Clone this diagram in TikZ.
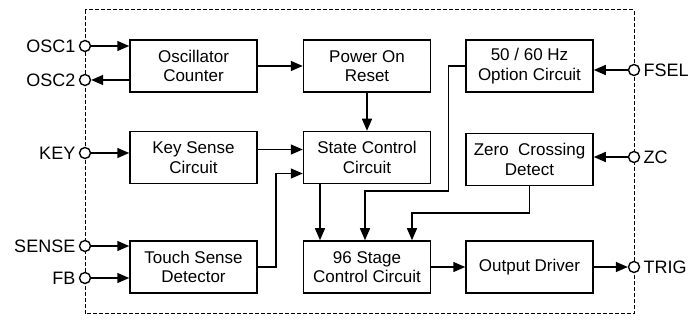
\documentclass[tikz,border=0pt]{standalone}
\usepackage{fontspec}
\setmainfont{Liberation Sans}
\usepackage{tikz}
\usetikzlibrary{arrows.meta, positioning, calc}

\begin{document}
\begin{tikzpicture}[x=1pt, y=-1pt,
  node distance=38pt and 45pt,
  block/.style={draw, line width=1.5pt, rectangle, minimum width=127pt, minimum height=52pt,
    align=center, font=\fontsize{17}{19.5}\selectfont, inner sep=2pt},
  iopin/.style={draw, circle, line width=1.4pt, fill=white, minimum size=11pt, inner sep=0pt,
    label distance=1pt},
  pinlbl/.style={font=\fontsize{18}{20}\selectfont},
  arr/.style={-{Triangle[length=12pt, width=10pt]}, line width=1.5pt},
  frame/.style={dash pattern=on 4pt off 2pt, line width=1pt}]

  \useasboundingbox (0,0) rectangle (699,320);

  % chip outline
  \draw[frame] (85,10) rectangle (634,314);

  % blocks
  \node[block] at (193.5,66) (osc) {Oscillator\\Counter};
  \node[block, right=45pt of osc] (por) {Power On\\Reset};
  \node[block, right=34pt of por] (opt) {50 / 60 Hz\\Option Circuit};
  \node[block, below=38pt of osc] (key) {Key Sense\\Circuit};
  \node[block, below=38pt of por] (state) {State Control\\Circuit};
  \node[block, below=40pt of opt] (zero) {Zero\ \ Crossing\\Detect};
  \node[block, below=56pt of key] (touch) {Touch Sense\\Detector};
  \node[block, below=56pt of state] (stage) {96 Stage\\Control Circuit};
  \node[block, below=54pt of zero] (out) {Output Driver};

  % pins
  \node[iopin, label={[pinlbl]left:OSC1}] at (85,46) (osc1) {};
  \node[iopin, label={[pinlbl]left:OSC2}] at (85,80) (osc2) {};
  \node[iopin, label={[pinlbl]left:KEY}] at (85,153) (keyp) {};
  \node[iopin, label={[pinlbl]left:SENSE}] at (85,246) (sense) {};
  \node[iopin, label={[pinlbl]left:FB}] at (85,278) (fb) {};
  \node[iopin, label={[pinlbl]right:FSEL}] at (634,70) (fsel) {};
  \node[iopin, label={[pinlbl]right:ZC}] at (634,157) (zc) {};
  \node[iopin, label={[pinlbl]right:TRIG}] at (634,267) (trig) {};

  \draw[arr] (osc1) -- (osc1 -| osc.west);
  \draw[arr] (osc2 -| osc.west) -- (osc2);
  \draw[arr] (keyp) -- (keyp -| key.west);
  \draw[arr] (sense) -- (sense -| touch.west);
  \draw[arr] (fb) -- (fb -| touch.west);
  \draw[arr] (fsel) -- (fsel -| opt.east);
  \draw[arr] (zc) -- (zc -| zero.east);
  \draw[arr] (out) -- (trig);

  \draw[arr] (osc) -- (por);
  \draw[arr] (por) -- (state);
  \draw[arr] ([yshift=8pt]key.east) -- ([yshift=8pt]state.west);
  \draw[arr] (touch.east) -- ++(18,0) |- ([yshift=-16pt]state.west);
  \draw[arr] ([xshift=-47pt]state.south) -- ([xshift=-47pt]stage.north);
  \draw[arr] (opt.west) -- ++(-17,0) -- ++(0,125) -| ([xshift=-2pt]stage.north);
  \draw[arr] (zero.south) -- ++(0,27) -| ([xshift=45pt]stage.north);
  \draw[arr] (stage) -- (out);
\end{tikzpicture}
\end{document}
